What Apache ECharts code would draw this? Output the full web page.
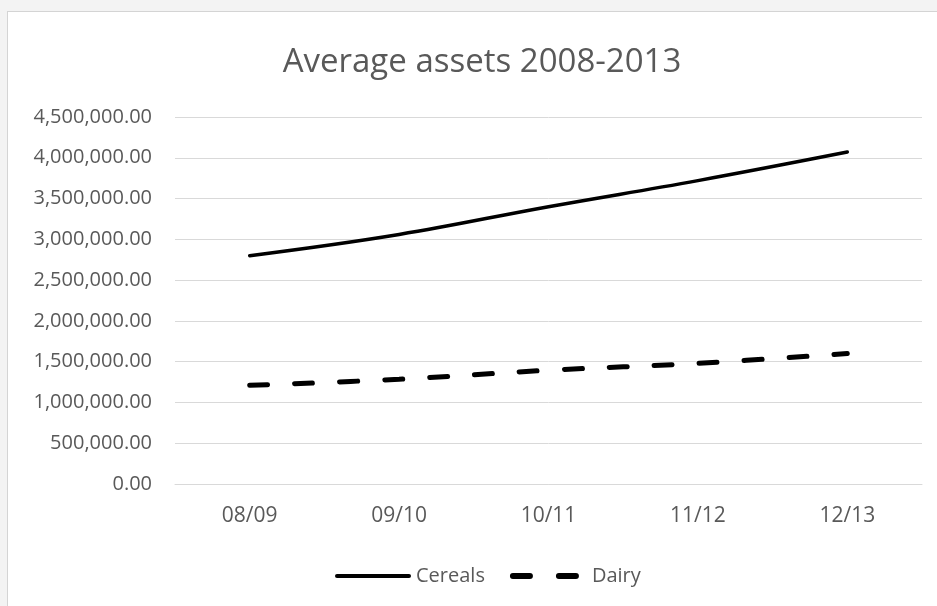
<!DOCTYPE html>
<html>
<head>
<meta charset="utf-8">
<script src="https://cdn.jsdelivr.net/npm/echarts@6/dist/echarts.min.js"></script>
<style>
  html, body { margin: 0; padding: 0; background: #f3f3f3; }
  #frame { position: absolute; left: 7px; top: 11px; width: 930px; height: 595px;
           background: #ffffff; border-left: 1px solid #d4d4d4; border-top: 1px solid #d4d4d4; }
  #chart { position: absolute; left: 0; top: 0; width: 937px; height: 606px; }
</style>
</head>
<body>
<div id="frame"></div>
<div id="chart"></div>
<script>
const titleText = 'Average assets 2008-2013';
const categories = ['08/09', '09/10', '10/11', '11/12', '12/13'];
const cereals = [2800000, 3060000, 3400000, 3720000, 4070000];
const dairy = [1210000, 1285000, 1395000, 1480000, 1600000];
const yTicks = [0, 500000, 1000000, 1500000, 2000000, 2500000, 3000000, 3500000, 4000000, 4500000];

const FONT = '"Open Sans", "Noto Sans", sans-serif';
const TXT = '#595959';

function fmt(v) {
  const s = Number(v).toFixed(2);
  const parts = s.split('.');
  parts[0] = parts[0].replace(/\B(?=(\d{3})+(?!\d))/g, ',');
  return parts.join('.');
}

const chart = echarts.init(document.getElementById('chart'), null, { renderer: 'canvas' });
chart.setOption({
  animation: false,
  backgroundColor: 'transparent',
  title: {
    text: titleText,
    left: 477,
    top: 41,
    textAlign: 'center',
    textStyle: { fontFamily: FONT, fontSize: 33, fontWeight: 'normal', color: TXT }
  },
  legend: {
    left: 330,
    top: 561,
    itemWidth: 72,
    itemHeight: 22,
    itemGap: 25,
    itemStyle: { opacity: 0 },
    textStyle: { fontFamily: FONT, fontSize: 20, color: TXT, padding: [0, 0, 0, 2] },
    data: [
      { name: 'Cereals', lineStyle: { width: 4, type: 'solid' } },
      { name: 'Dairy', lineStyle: { width: 6, type: [17, 29], cap: 'round' } }
    ]
  },
  grid: { left: 175, right: 15, top: 117, bottom: 122, containLabel: false },
  xAxis: {
    type: 'category',
    data: categories,
    boundaryGap: true,
    axisLine: { show: true, lineStyle: { color: '#d9d9d9', width: 1 } },
    axisTick: { show: false },
    axisLabel: { fontFamily: FONT, fontSize: 21, color: TXT, margin: 22 }
  },
  yAxis: {
    type: 'value',
    min: yTicks[0],
    max: yTicks[yTicks.length - 1],
    interval: yTicks[1] - yTicks[0],
    axisLine: { show: false },
    axisTick: { show: false },
    splitLine: { lineStyle: { color: '#d9d9d9', width: 1 } },
    axisLabel: { fontFamily: FONT, fontSize: 20, color: TXT, margin: 23, formatter: fmt }
  },
  series: [
    {
      name: 'Cereals',
      type: 'line',
      data: cereals,
      smooth: 0.4,
      showSymbol: false,
      symbol: 'none',
      color: '#000000',
      lineStyle: { color: '#000000', width: 3.5, cap: 'round' }
    },
    {
      name: 'Dairy',
      type: 'line',
      data: dairy,
      smooth: 0.4,
      showSymbol: false,
      symbol: 'none',
      color: '#000000',
      lineStyle: { color: '#000000', width: 5, type: [18, 27], cap: 'round' }
    }
  ]
});
</script>
</body>
</html>
